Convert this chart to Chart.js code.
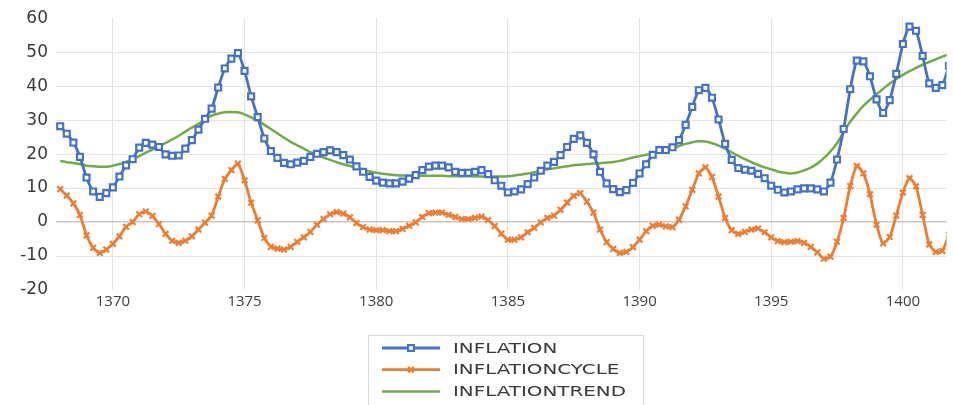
<!DOCTYPE html>
<html>
<head>
<meta charset="utf-8">
<script src="https://cdn.jsdelivr.net/npm/chart.js@4.4.0/dist/chart.umd.min.js"></script>
<style>
  html, body { margin: 0; padding: 0; background: #fff; }
  #wrap { width: 953px; height: 405px; }
</style>
</head>
<body>
<div id="wrap"><canvas id="myChart"></canvas></div>
<script>
// quarterly series, first point = 1368 Q1
const inflation = [28.2, 26.0, 23.4, 19.2, 13.1, 9.0, 7.4, 8.5, 10.2, 13.4, 16.7, 18.5, 21.9, 23.3, 22.8, 22.1, 19.9, 19.5, 19.6, 21.6, 24.1, 27.2, 30.4, 33.4,
  39.6, 45.2, 48.1, 49.7, 44.5, 37.0, 30.9, 24.6, 20.9, 18.9, 17.4, 17.0, 17.5, 18.0, 19.2, 20.1, 20.6, 21.1, 20.6, 19.7, 18.4,
  16.4, 14.8, 13.3, 12.2, 11.6, 11.4, 11.4, 11.9, 12.8, 13.8, 15.3, 16.3, 16.6, 16.6, 16.1, 14.8, 14.5, 14.5, 14.8, 15.3, 14.1, 12.3,
  10.7, 8.7, 9.0, 9.6, 11.2, 13.1, 15.1, 16.6, 17.7, 19.7, 22.1, 24.5, 25.5, 23.3, 19.9, 14.8, 11.4, 9.7, 8.8, 9.4, 11.5, 14.3,
  17.0, 19.8, 21.2, 21.2, 22.0, 24.1, 28.6, 33.9, 38.8, 39.5, 36.6, 30.2, 23.0, 18.3, 15.9, 15.4, 15.1, 14.2, 12.9, 10.7, 9.5, 8.7,
  9.0, 9.6, 9.9, 9.9, 9.6, 9.0, 11.6, 18.4, 27.4, 39.1, 47.5, 47.3, 42.9, 36.1, 32.1, 35.9, 43.6, 52.4, 57.5, 56.3, 48.9, 40.8, 39.5, 40.3, 46.0];

const inflationCycle = [9.7, 7.8, 5.5, 2.1, -3.9, -7.6, -9.1, -8.1, -6.4, -4.2, -1.4, 0.0, 2.3, 3.1, 1.8, -0.6, -3.5, -5.5, -6.1, -5.5, -4.2, -2.2, -0.2, 1.9,
  7.5, 12.7, 15.3, 17.2, 12.3, 5.7, 0.5, -4.7, -7.3, -7.8, -8.1, -7.3, -5.8, -4.5, -2.9, -0.8, 0.9, 2.3, 2.9, 2.5, 1.4,
  -0.3, -1.5, -2.2, -2.4, -2.4, -2.7, -2.7, -2.0, -1.1, -0.1, 1.5, 2.6, 2.8, 2.8, 2.1, 1.5, 0.9, 0.9, 1.2, 1.6, 0.6, -1.2,
  -3.4, -5.2, -5.2, -4.5, -3.0, -1.7, -0.1, 1.2, 1.9, 3.6, 5.7, 7.7, 8.5, 6.0, 2.8, -2.2, -5.9, -7.9, -9.1, -8.8, -7.4, -5.2,
  -2.7, -1.1, -0.8, -1.3, -1.5, 0.7, 4.6, 9.5, 14.3, 16.1, 13.3, 7.5, 1.2, -2.4, -3.5, -2.9, -2.2, -1.9, -3.0, -4.5, -5.6, -5.9,
  -5.8, -5.6, -6.1, -7.3, -8.9, -10.8, -10.2, -5.8, 1.2, 10.6, 16.5, 14.3, 8.2, -0.8, -6.3, -4.4, 1.9, 8.7, 12.9, 10.5, 2.1, -6.6, -8.8, -8.5, -3.7];

const inflationTrend = [18.0, 17.6, 17.4, 17.0, 16.6, 16.4, 16.3, 16.3, 16.6, 17.1, 17.7, 18.5, 19.4, 20.4, 21.3, 22.3, 23.3, 24.3, 25.4, 26.6, 27.8, 28.9, 30.1,
  31.3, 31.9, 32.3, 32.4, 32.3, 31.7, 30.8, 29.9, 28.6, 27.4, 26.1, 24.8, 23.6, 22.6, 21.6, 20.6, 19.8, 19.0, 18.3, 17.6, 17.0, 16.5,
  16.0, 15.4, 14.9, 14.5, 14.2, 14.0, 13.8, 13.7, 13.6, 13.6, 13.6, 13.6, 13.6, 13.6, 13.5, 13.5, 13.5, 13.5, 13.4, 13.4, 13.4, 13.4,
  13.4, 13.5, 13.7, 14.0, 14.3, 14.7, 15.2, 15.5, 15.8, 16.1, 16.4, 16.7, 16.9, 17.1, 17.2, 17.3, 17.5, 17.7, 18.0, 18.5, 19.0, 19.4,
  19.8, 20.2, 20.6, 21.0, 21.7, 22.4, 23.0, 23.5, 23.8, 23.7, 23.2, 22.5, 21.6, 20.5, 19.5, 18.5, 17.6, 16.8, 16.1, 15.5, 14.9, 14.5,
  14.3, 14.6, 15.2, 16.0, 17.2, 18.8, 20.8, 23.2, 26.4, 29.5, 32.0, 34.2, 36.0, 37.6, 39.2, 40.8, 42.1, 43.3, 44.4, 45.4, 46.3, 47.1, 47.9, 48.7, 49.4];

const yearTicks = [1370, 1375, 1380, 1385, 1390, 1395, 1400];
const firstYear = 1368;
const quarters = inflation.map((v, i) => firstYear + i / 4);

function toPoints(values) {
  return values.map((v, i) => ({ x: quarters[i], y: v }));
}

const blue = '#4472C4';
const orange = '#ED7D31';
const green = '#70AD47';

// legend drawn as a box below the plot, items stacked
const legendBox = {
  id: 'legendBox',
  afterDraw(chart) {
    const ctx = chart.ctx;
    ctx.save();
    ctx.strokeStyle = '#d9d9d9';
    ctx.lineWidth = 1;
    ctx.strokeRect(368.5, 335.5, 275, 90);
    chart.data.datasets.forEach((ds, i) => {
      const y = 348 + i * 21.7;
      ctx.strokeStyle = ds.borderColor;
      ctx.lineWidth = ds.borderWidth;
      ctx.beginPath();
      ctx.moveTo(382, y);
      ctx.lineTo(440, y);
      ctx.stroke();
      if (ds.pointRadius > 0) {
        ctx.fillStyle = '#fff';
        ctx.lineWidth = ds.pointBorderWidth;
        Chart.helpers.drawPoint(ctx, {
          pointStyle: ds.pointStyle, radius: ds.pointRadius, borderWidth: ds.pointBorderWidth, rotation: 0
        }, 411, y);
      }
      ctx.save();
      ctx.translate(453, y + 1);
      ctx.scale(1.42, 1);
      ctx.fillStyle = '#3a3a3a';
      ctx.font = '14px "DejaVu Sans"';
      ctx.textBaseline = 'middle';
      ctx.fillText(ds.label, 0, 0);
      ctx.restore();
    });
    ctx.restore();
  }
};

const data = {
  datasets: [
    {
      label: 'INFLATION',
      data: toPoints(inflation),
      borderColor: blue,
      backgroundColor: '#fff',
      borderWidth: 2.8,
      pointStyle: 'rect',
      pointRadius: 4.2,
      pointBorderWidth: 2.2,
      pointBackgroundColor: '#fff',
      pointBorderColor: blue,
      tension: 0.2
    }, {
      label: 'INFLATIONCYCLE',
      data: toPoints(inflationCycle),
      borderColor: orange,
      backgroundColor: orange,
      borderWidth: 2.8,
      pointStyle: 'crossRot',
      pointRadius: 4,
      pointBorderWidth: 2.2,
      pointBorderColor: orange,
      tension: 0.2
    }, {
      label: 'INFLATIONTREND',
      data: toPoints(inflationTrend),
      borderColor: green,
      borderWidth: 2.5,
      pointRadius: 0,
      tension: 0.3
    }
  ]
};

const config = {
  type: 'line',
  data: data,
  options: {
    responsive: true,
    maintainAspectRatio: false,
    animation: false,
    layout: { padding: { top: 17, right: 0, left: 0, bottom: 0 } },
    plugins: {
      legend: { display: false },
      tooltip: { enabled: false }
    },
    scales: {
      x: {
        type: 'linear',
        min: 1367.84,
        max: 1401.66,
        afterBuildTicks: (scale) => {
          scale.ticks = yearTicks.map(v => ({ value: v }));
        },
        afterFit: (scale) => { scale.height = 115; },
        border: { display: false },
        grid: { color: '#e4e4e4', lineWidth: 1, drawTicks: false },
        ticks: {
          padding: 3,
          color: '#404040',
          font: { family: '"Open Sans", "Liberation Sans"', size: 15 },
          maxRotation: 0,
          autoSkip: false,
          callback: (v) => String(v)
        }
      },
      y: {
        min: -20,
        max: 60,
        afterFit: (scale) => { scale.width = 56; },
        border: { display: false },
        grid: {
          drawTicks: false,
          lineWidth: (c) => (c.tick && c.tick.value === 0 ? 1.5 : 1),
          color: (c) => {
            if (!c.tick) return '#e4e4e4';
            if (c.tick.value === 0) return '#c8c8c8';
            if (c.tick.value === 60 || c.tick.value === -20) return 'rgba(0,0,0,0)';
            return '#e4e4e4';
          }
        },
        ticks: {
          stepSize: 10,
          padding: 8,
          color: '#3a3a3a',
          font: { family: '"DejaVu Sans"', size: 17 }
        }
      }
    }
  },
  plugins: [legendBox]
};

const myChart = new Chart(document.getElementById('myChart'), config);
</script>
</body>
</html>
